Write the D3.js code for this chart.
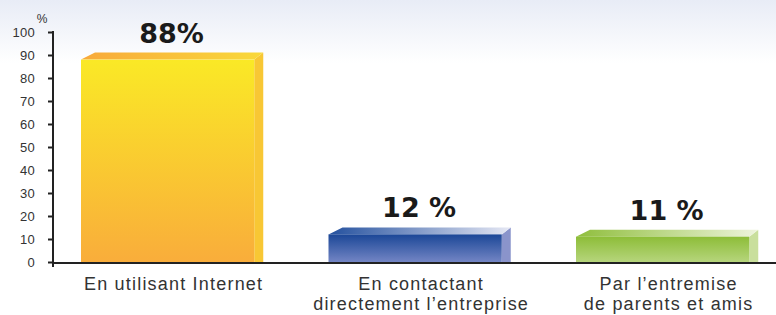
<!DOCTYPE html>
<html lang="fr">
<head>
    <meta charset="UTF-8">
    <title>Chart</title>
    <script src="https://d3js.org/d3.v7.min.js"></script>
    <style>
        body { margin: 0; }
        text { font-family: "Liberation Sans", Arial, sans-serif; }
    </style>
</head>
<body>

<svg width="776" height="315"></svg>
<script>

    var categories = [
        ["En utilisant Internet"],
        ["En contactant", "directement l\u2019entreprise"],
        ["Par l\u2019entremise", "de parents et amis"]
    ];
    var values = [88, 12, 11];
    var valueLabels = ["88%", "12 %", "11 %"];
    var yTicks = [0, 10, 20, 30, 40, 50, 60, 70, 80, 90, 100];

    // colours per bar: front top, front bottom, top face left, top face right, side
    var palettes = [
        {front: ["#fae926", "#f9ad3b"], top: ["#f8a93a", "#f9d93a"], side: "#f8c734"},
        {front: ["#1b4797", "#7385c4"], top: ["#23509e", "#e6e8f4"], side: "#8a94cb"},
        {front: ["#8dbd38", "#b6d57c"], top: ["#8fbe3c", "#eef4dc"], side: "#c9df9c"}
    ];

    var svg = d3.select("svg"),
        width = +svg.attr("width"),
        height = +svg.attr("height");

    var defs = svg.append("defs");

    var bg = defs.append("linearGradient").attr("id", "bg")
        .attr("x1", 0).attr("y1", 0).attr("x2", 0).attr("y2", 1);
    bg.append("stop").attr("offset", "0").attr("stop-color", "#e8ecf6");
    bg.append("stop").attr("offset", "0.2").attr("stop-color", "#ffffff");

    svg.append("rect").attr("width", width).attr("height", height).attr("fill", "url(#bg)");

    var y = d3.scaleLinear().domain([0, 100]).range([262, 32]);
    var x = d3.scaleBand()
        .domain(d3.range(values.length))
        .range([81, 749.25])
        .paddingInner(0.3)
        .paddingOuter(0);

    var depthL = 14, depthR = 9, depthY = 7;

    palettes.forEach(function (p, i) {
        var gf = defs.append("linearGradient").attr("id", "front" + i)
            .attr("x1", 0).attr("y1", 0).attr("x2", 0).attr("y2", 1);
        gf.append("stop").attr("offset", "0").attr("stop-color", p.front[0]);
        gf.append("stop").attr("offset", "1").attr("stop-color", p.front[1]);
        var gt = defs.append("linearGradient").attr("id", "top" + i)
            .attr("x1", 0).attr("y1", 0).attr("x2", 1).attr("y2", 0);
        gt.append("stop").attr("offset", "0").attr("stop-color", p.top[0]);
        gt.append("stop").attr("offset", "1").attr("stop-color", p.top[1]);
    });

    // bars
    var bars = svg.selectAll(".bar")
        .data(values)
        .enter().append("g")
        .attr("class", "bar");

    bars.append("path")
        .attr("fill", function (d, i) { return palettes[i].side; })
        .attr("d", function (d, i) {
            var x1 = x(i) + x.bandwidth(), yt = y(d), yb = y(0);
            return "M" + x1 + "," + yt + "L" + (x1 + depthR) + "," + (yt - depthY) +
                "L" + (x1 + depthR) + "," + yb + "L" + x1 + "," + yb + "Z";
        });

    bars.append("path")
        .attr("fill", function (d, i) { return "url(#top" + i + ")"; })
        .attr("d", function (d, i) {
            var x0 = x(i), x1 = x(i) + x.bandwidth(), yt = y(d);
            return "M" + x0 + "," + yt + "L" + x1 + "," + yt +
                "L" + (x1 + depthR) + "," + (yt - depthY) +
                "L" + (x0 + depthL) + "," + (yt - depthY) + "Z";
        });

    bars.append("rect")
        .attr("x", function (d, i) { return x(i); })
        .attr("y", function (d) { return y(d); })
        .attr("width", x.bandwidth())
        .attr("height", function (d) { return y(0) - y(d); })
        .attr("fill", function (d, i) { return "url(#front" + i + ")"; });

    bars.append("text")
        .attr("x", function (d, i) { return x(i) + x.bandwidth() / 2 + 4; })
        .attr("y", function (d) { return y(d) - depthY - 10; })
        .attr("text-anchor", "middle")
        .style("font-family", "'DejaVu Sans', sans-serif")
        .style("font-weight", "bold")
        .style("font-size", "27px")
        .attr("fill", "#1a1a1a")
        .text(function (d, i) { return valueLabels[i]; });

    // axes
    svg.append("line")
        .attr("x1", 52).attr("x2", width)
        .attr("y1", y(0) + 1).attr("y2", y(0) + 1)
        .attr("stroke", "#222").attr("stroke-width", 2);

    var yAxis = d3.axisLeft(y).tickValues(yTicks).tickSize(5).tickPadding(13);
    var ga = svg.append("g")
        .attr("transform", "translate(53,0)")
        .call(yAxis);
    ga.select(".domain").remove();
    ga.selectAll(".tick line").attr("stroke", "#222").attr("stroke-width", 2);
    ga.selectAll(".tick text")
        .attr("fill", "#333")
        .style("font-family", "'Liberation Sans', Arial, sans-serif")
        .style("font-size", "13px")
        .style("letter-spacing", "0.3px");
    svg.append("line")
        .attr("x1", 53).attr("x2", 53)
        .attr("y1", y(100) - 1).attr("y2", y(0) + 5)
        .attr("stroke", "#222").attr("stroke-width", 2);

    svg.append("text")
        .attr("x", 42).attr("y", 23)
        .attr("text-anchor", "middle")
        .attr("fill", "#333")
        .style("font-size", "12px")
        .text("%");

    // category labels
    var cat = svg.selectAll(".cat")
        .data(categories)
        .enter().append("text")
        .attr("class", "cat")
        .attr("text-anchor", "middle")
        .attr("fill", "#333")
        .style("font-size", "18px")
        .style("letter-spacing", "1.2px");

    cat.selectAll("tspan")
        .data(function (d, i) { return d.map(function (t) { return {t: t, i: i}; }); })
        .enter().append("tspan")
        .attr("x", function (d) { return x(d.i) + x.bandwidth() / 2 + 6; })
        .attr("y", function (d, j) { return 289.5 + j * 20.5; })
        .text(function (d) { return d.t; });

</script>

</body>
</html>
